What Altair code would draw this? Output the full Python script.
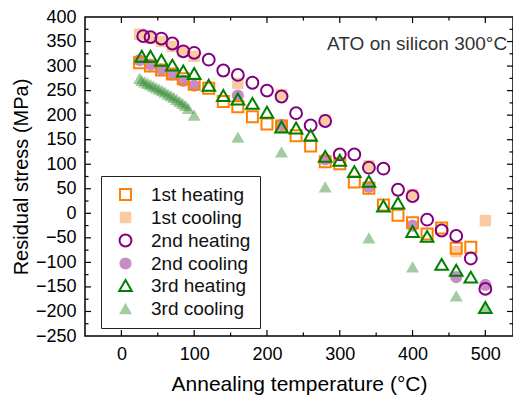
import altair as alt
import pandas as pd

SERIES = ["1st heating", "1st cooling", "2nd heating", "2nd cooling", "3rd heating", "3rd cooling"]

h1_T = [25, 40, 55, 70, 85, 100, 120, 140, 160, 180, 200, 220, 240, 260, 280, 300, 320, 340, 360, 380, 400, 420, 440, 460, 480]
h1_V = [307, 300, 292, 284, 274, 263, 255, 228, 217, 197, 182, 178, 158, 137, 105, 101, 64, 51, 17, -4, -19, -42, -30, -71, -69]

c1_T = [500, 460, 400, 340, 280, 220, 160, 100, 85, 70, 55, 40, 25]
c1_V = [-15, -78, 38, 97, 190, 242, 265, 320, 330, 340, 350, 357, 365]

h2_T = [30, 40, 55, 70, 85, 100, 120, 140, 160, 180, 200, 220, 240, 260, 280, 300, 320, 340, 360, 380, 400, 420, 440, 460, 480, 500]
h2_V = [361, 359, 356, 346, 330, 327, 313, 291, 282, 266, 250, 238, 204, 179, 188, 120, 120, 93, 91, 48, 35, -13, -35, -46, -92, -154]

c2_T = [500, 460, 400, 340, 280, 220, 160, 100, 85, 70, 55, 40, 25]
c2_V = [-146, -130, -25, 54, 110, 180, 240, 260, 270, 283, 293, 303, 312]

h3_T = [28, 40, 55, 70, 85, 100, 120, 140, 160, 180, 200, 220, 240, 260, 280, 300, 320, 340, 360, 380, 400, 420, 440, 460, 480, 500]
h3_V = [320, 320, 312, 302, 290, 285, 261, 240, 233, 224, 206, 176, 174, 159, 116, 108, 85, 65, 15, 21, -37, -47, -104, -116, -130, -192]

c3_T = [500, 460, 400, 340, 280, 220, 160, 100, 92, 88, 84, 80, 76, 72, 68, 64, 60, 56, 52, 48, 44, 40, 36, 32, 28, 25]
c3_V = [-190, -168, -109, -50, 54, 125, 155, 200, 214, 220, 224, 228, 232, 236, 240, 243, 247, 250, 253, 256, 259, 262, 265, 268, 271, 275]

X_LABEL_TICKS = [0, 100, 200, 300, 400, 500]
X_MINOR_TICKS = [50, 150, 250, 350, 450]
Y_LABEL_TICKS = [-250, -200, -150, -100, -50, 0, 50, 100, 150, 200, 250, 300, 350, 400]
Y_MAJOR_TICKS = [-200, -150, -100, -50, 0, 50, 100, 150, 200, 250, 300, 350]
Y_MINOR_TICKS = [-225, -175, -125, -75, -25, 25, 75, 125, 175, 225, 275, 325, 375]

NOTE_TEXT = ["ATO on silicon 300°C"]
NOTE_T = [530]
NOTE_V = [345]

W, H = 428, 319
FONT = "Liberation Sans"

# draw order: cooling series below, heating series on top
draw = [
    ("3rd cooling", c3_T, c3_V),
    ("2nd cooling", c2_T, c2_V),
    ("1st cooling", c1_T, c1_V),
    ("1st heating", h1_T, h1_V),
    ("2nd heating", h2_T, h2_V),
    ("3rd heating", h3_T, h3_V),
]
rows = []
for name, ts, vs in draw:
    for t, v in zip(ts, vs):
        rows.append({"series": name, "T": t, "V": v})
df = pd.DataFrame(rows)

ORANGE = "#FF7F00"
PURPLE = "#800080"
GREEN = "#008000"
C1 = "rgba(245,160,85,0.55)"
C2 = "rgba(128,0,128,0.45)"
C3 = "rgba(50,140,50,0.45)"

xscale = alt.Scale(domain=[-50, 538], nice=False, zero=False)
yscale = alt.Scale(domain=[-250, 400], nice=False, zero=False)

xaxis = alt.Axis(values=X_LABEL_TICKS, title="Annealing temperature (°C)",
                 grid=False, ticks=False, tickSize=0, domain=False, labelOverlap=False,
                 labelFontSize=18, labelFont=FONT, labelColor="black",
                 labelPadding=9, titleFontSize=21, titleFont=FONT,
                 titleFontWeight="normal", titleColor="black", titlePadding=10)
yaxis = alt.Axis(values=Y_LABEL_TICKS, title="Residual stress (MPa)",
                 grid=False, ticks=False, tickSize=0, domain=False, labelOverlap=False,
                 labelFontSize=18, labelFont=FONT, labelColor="black",
                 labelPadding=9, titleFontSize=20, titleFont=FONT,
                 titleFontWeight="normal", titleColor="black", titlePadding=4)

legend = alt.Legend(
    title=None, orient="none", legendX=16, legendY=159,
    strokeColor="#222222", fillColor="white", padding=9, rowPadding=2,
    symbolOffset=6, labelOffset=16, labelFontSize=19, labelFont=FONT,
    labelColor="#111111", symbolStrokeWidth=2, cornerRadius=0,
)

points = alt.Chart(df).mark_point(strokeWidth=2, opacity=1).encode(
    x=alt.X("T:Q", scale=xscale, axis=xaxis),
    y=alt.Y("V:Q", scale=yscale, axis=yaxis),
    shape=alt.Shape("series:N", scale=alt.Scale(domain=SERIES,
                    range=["square", "square", "circle", "circle", "triangle-up", "triangle-up"]),
                    legend=legend),
    stroke=alt.Stroke("series:N", scale=alt.Scale(domain=SERIES,
                      range=[ORANGE, "transparent", PURPLE, "transparent", GREEN, "transparent"]),
                      legend=legend),
    fill=alt.Fill("series:N", scale=alt.Scale(domain=SERIES,
                  range=["transparent", C1, "transparent", C2, "transparent", C3]),
                  legend=legend),
    size=alt.Size("series:N", scale=alt.Scale(domain=SERIES,
                  range=[121, 169, 100, 133, 240, 256]),
                  legend=legend),
)

xt_major = pd.DataFrame({"T": X_LABEL_TICKS})
xt_minor = pd.DataFrame({"T": X_MINOR_TICKS})
yt_major = pd.DataFrame({"V": Y_MAJOR_TICKS})
yt_minor = pd.DataFrame({"V": Y_MINOR_TICKS})

def xticks(d, length):
    bot = alt.Chart(d).mark_rule(color="black", strokeWidth=1.2).encode(
        x=alt.X("T:Q", scale=xscale, axis=xaxis), y=alt.value(H), y2=alt.value(H - length))
    top = alt.Chart(d).mark_rule(color="black", strokeWidth=1.2).encode(
        x=alt.X("T:Q", scale=xscale, axis=xaxis), y=alt.value(0), y2=alt.value(length))
    return bot + top

def yticks(d, length):
    left = alt.Chart(d).mark_rule(color="black", strokeWidth=1.2).encode(
        y=alt.Y("V:Q", scale=yscale, axis=yaxis), x=alt.value(0), x2=alt.value(length))
    right = alt.Chart(d).mark_rule(color="black", strokeWidth=1.2).encode(
        y=alt.Y("V:Q", scale=yscale, axis=yaxis), x=alt.value(W), x2=alt.value(W - length))
    return left + right

note = alt.Chart(pd.DataFrame({"text": NOTE_TEXT, "T": NOTE_T, "V": NOTE_V})).mark_text(
    align="right", baseline="middle", fontSize=19, font=FONT, color="#333333"
).encode(x=alt.X("T:Q", scale=xscale, axis=xaxis), y=alt.Y("V:Q", scale=yscale, axis=yaxis),
         text="text:N")

chart = alt.layer(
    points,
    xticks(xt_major, 6), xticks(xt_minor, 3.5),
    yticks(yt_major, 6), yticks(yt_minor, 3.5),
    note,
).properties(
    width=W, height=H,
    autosize=alt.AutoSizeParams(type="none"),
    padding={"left": 77, "top": 9, "right": 0, "bottom": 60},
).configure_view(stroke="black", strokeWidth=1.5
).configure_axis(labelOverlap=False)

chart.save("out.html", embed_options={"renderer": "svg", "actions": False})
